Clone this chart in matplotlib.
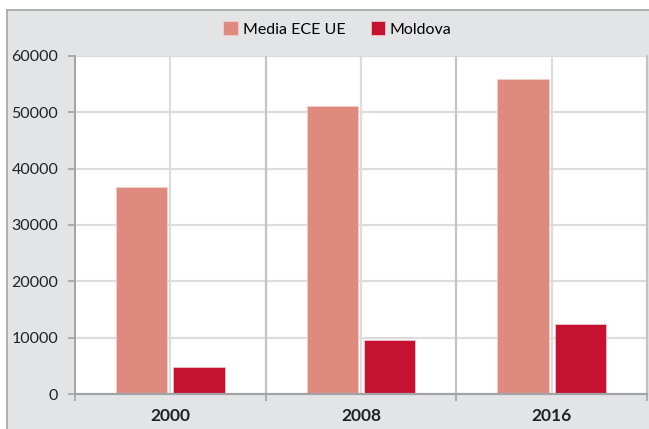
import matplotlib

matplotlib.use("Agg")
import matplotlib.pyplot as plt
from matplotlib.patches import Rectangle
from matplotlib.lines import Line2D
import numpy as np

# === Data ===
years = ["2000", "2008", "2016"]
media_ece_ue = [36700, 51100, 56000]
moldova = [4800, 9500, 12400]
series_names = ["Media ECE UE", "Moldova"]
y_ticks = [0, 10000, 20000, 30000, 40000, 50000, 60000]

# === Style ===
COL_MEDIA = "#df8a7e"
COL_MOLD = "#c41230"
BG = "#e3e4e6"
GRID = "#dcdcdc"
SEP = "#c3c4c6"
AXIS = "#a2a3a5"
plt.rcParams["font.family"] = ["Lato", "DejaVu Sans"]

W, H = 649, 429
fig = plt.figure(figsize=(W / 100, H / 100), dpi=100)
fig.patch.set_facecolor("white")

# outer grey panel with top/left border (kept behind the axes)
fig.patches.append(Rectangle((7 / W, 0), 1, 1 - 10 / H, transform=fig.transFigure,
                             facecolor=BG, edgecolor="none", zorder=-10))
fig.lines.append(Line2D([7 / W, 1], [1 - 10 / H, 1 - 10 / H], transform=fig.transFigure,
                        color=AXIS, lw=1.2, zorder=-9))
fig.lines.append(Line2D([7 / W, 7 / W], [0, 1 - 10 / H], transform=fig.transFigure,
                        color=AXIS, lw=1.2, zorder=-9))

left, right = 75 / W, 647 / W
bottom, top = 1 - 394 / H, 1 - 56 / H
ax = fig.add_axes([left, bottom, right - left, top - bottom])
ax.set_facecolor("white")

x = np.arange(len(years))
bw = 0.27
off = 0.15
ax.bar(x - off, media_ece_ue, bw, color=COL_MEDIA, edgecolor="#f3cfc9", linewidth=0.6,
       label=series_names[0], zorder=3)
ax.bar(x + off, moldova, bw, color=COL_MOLD, edgecolor="#f0c0c8", linewidth=0.6,
       label=series_names[1], zorder=3)

ax.set_xlim(-0.5, len(years) - 0.5)
ax.set_ylim(0, 60000)
ax.set_yticks(y_ticks)
ax.set_yticklabels([str(v) for v in y_ticks], fontsize=11.5, color="#222222")

# horizontal grid
for v in y_ticks[1:]:
    ax.axhline(v, color=GRID, lw=1.6, zorder=1)
# vertical light lines at category centres, darker separators
for xi in x:
    ax.axvline(xi, color=GRID, lw=1.6, zorder=1)
for xs in np.arange(0.5, len(years) - 0.5, 1):
    ax.axvline(xs, color=SEP, lw=1.6, zorder=1)

ax.set_xticks(x)
ax.set_xticklabels(years, fontsize=12.5, fontweight="bold", color="#222222")
ax.set_xticks(np.arange(-0.5, len(years), 1), minor=True)
ax.tick_params(axis="x", which="major", length=0, pad=10)
ax.tick_params(axis="x", which="minor", length=5, width=1.2, color=AXIS, direction="out")
ax.tick_params(axis="y", length=5, width=1.2, color=AXIS, pad=7)

ax.spines["top"].set_visible(False)
ax.spines["right"].set_color(SEP)
ax.spines["right"].set_linewidth(1.6)
ax.spines["left"].set_color(AXIS)
ax.spines["left"].set_linewidth(1.4)
ax.spines["bottom"].set_color(AXIS)
ax.spines["bottom"].set_linewidth(1.6)
ax.spines["bottom"].set_zorder(4)

fig.legend(loc="center", bbox_to_anchor=(0.52, 1 - 29 / H), ncol=2, frameon=False,
           fontsize=11.5, handlelength=0.9, handleheight=0.9, handletextpad=0.3,
           columnspacing=1.6)

fig.savefig("out.png", dpi=100)
